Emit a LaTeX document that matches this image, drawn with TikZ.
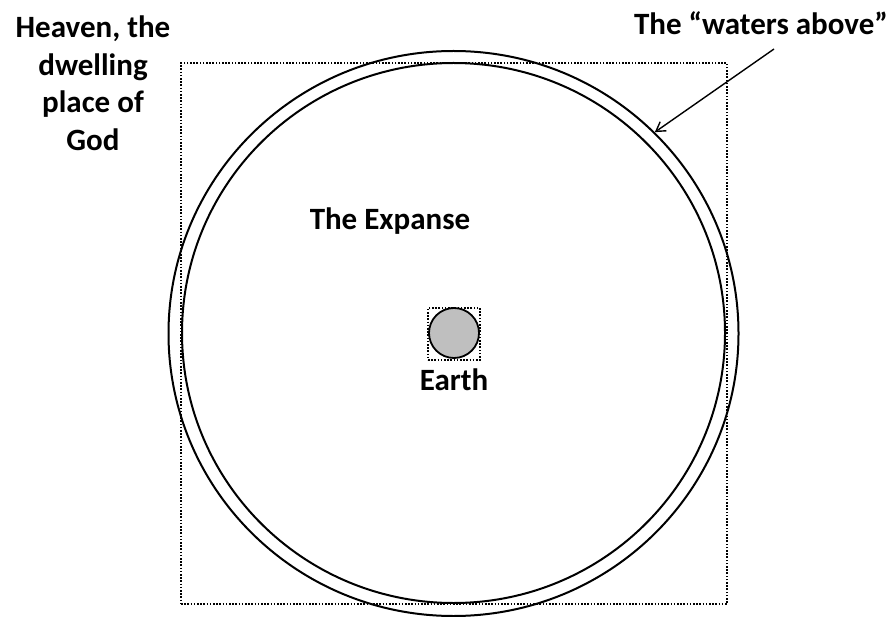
\documentclass[tikz,border=0pt]{standalone}
\usepackage{fontspec}
\setmainfont{Carlito}
\usetikzlibrary{arrows.meta,shapes.geometric}
\begin{document}
\begin{tikzpicture}[x=1pt,y=-1pt,
  lbl/.style={font=\bfseries\fontsize{31}{37.5}\selectfont, inner sep=0pt, align=center},
  dotbox/.style={draw, line width=1.8pt, dash pattern=on 1.6pt off 1.6pt, rectangle, inner sep=0pt},
  ring/.style={draw, line width=2pt, ellipse, inner sep=0pt}]
\useasboundingbox (0,0) rectangle (893,617);
% dotted heaven square
\node[dotbox, minimum width=546pt, minimum height=541pt] (heaven) at (454,333.5) {};
% circles
\node[ring, minimum width=570pt, minimum height=565pt] (outer) at (453.5,333.5) {};
\node[ring, minimum width=543pt, minimum height=540pt] (inner) at (453.5,333) {};
% earth
\node[dotbox, minimum size=52pt] (earthbox) at (454,334) {};
\node[draw, circle, line width=1.8pt, fill=black!25, minimum size=50pt, inner sep=0pt] (earth) at (454,333) {};
% labels
\node[lbl, anchor=base] (earthlbl) at (454,390) {Earth};
\node[lbl, anchor=base] (expanse) at (390,230) {The Expanse};
\node[lbl, anchor=base] (waters) at (761,35) {The “waters above”};
\node[lbl, anchor=north] (heavenlbl) at (93,16) {Heaven, the\\dwelling\\place of\\God};
% arrow
\coordinate (wstart) at (774,49);
\draw[line width=1.4pt, -{Straight Barb[length=9pt,width=11pt,line width=1.4pt]}] (wstart) -- (outer.45);
\end{tikzpicture}
\end{document}
